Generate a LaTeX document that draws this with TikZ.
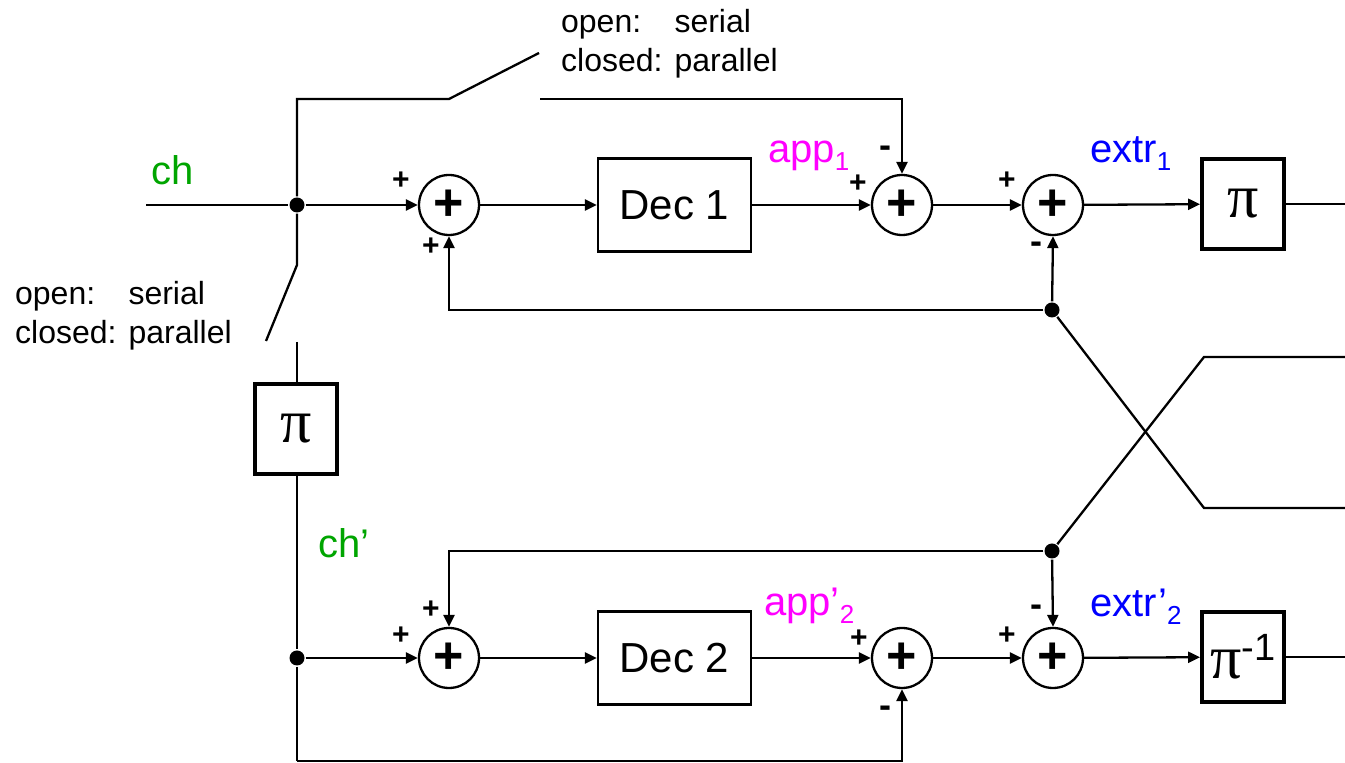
\documentclass[tikz,border=0pt]{standalone}
\usepackage{fontspec}
\setmainfont{Liberation Sans}
\newfontfamily\greekfont{Liberation Serif}
\usetikzlibrary{arrows.meta,positioning}
\definecolor{chgreen}{RGB}{0,165,0}
\definecolor{appmag}{RGB}{255,0,255}
\definecolor{extrblue}{RGB}{0,0,255}
\newcommand{\lowsub}[1]{\raisebox{-4pt}{\fontsize{13}{13}\selectfont #1}}
\newcommand{\sumsign}{\raisebox{-1.5pt}{+}}
\newcommand{\minussign}{{\fontsize{18}{18}\selectfont -}}

\begin{document}
\begin{tikzpicture}[x=0.5pt,y=-0.5pt,line width=1.15pt,>={Triangle[length=6pt,width=5.5pt]},
      sum/.style={circle,draw,minimum size=30pt,inner sep=0pt,font=\fontsize{26}{26}\selectfont\bfseries},
      dec/.style={rectangle,draw,minimum width=76.5pt,minimum height=46.5pt,font=\fontsize{21}{21}\selectfont},
      perm/.style={rectangle,draw,line width=1.9pt,minimum width=41pt,minimum height=45pt,inner sep=0pt,font=\fontsize{31}{31}\greekfont},
      dot/.style={circle,fill,inner sep=0pt,minimum size=7.5pt},
      sgn/.style={inner sep=0pt,font=\fontsize{15}{15}\selectfont\bfseries},
      lbl/.style={anchor=base west,inner sep=0pt,font=\fontsize{20}{20}\selectfont},
      note/.style={anchor=base west,inner sep=0pt,font=\fontsize{16}{19.5}\selectfont}]
      \useasboundingbox (0,0) rectangle (1345,763);

      % upper branch
      \node[dot] (j1) at (297,205) {};
      \node[sum] (s1) at (449,205) {\sumsign};
      \node[dec] (dec1) at (674.5,205) {Dec 1};
      \node[sum] (s2) at (902,205) {\sumsign};
      \node[sum] (s3) at (1053,205) {\sumsign};
      \node[perm] (pi1) at (1243,204) {π};

      % lower branch
      \node[perm] (pi0) at (296,429) {π};
      \node[dot] (j2) at (297,658) {};
      \node[sum] (s4) at (449,658) {\sumsign};
      \node[dec] (dec2) at (674.5,658) {Dec 2};
      \node[sum] (s5) at (902,658) {\sumsign};
      \node[sum] (s6) at (1053,658) {\sumsign};
      \node[perm] (pi2) at (1243,657) {π\raisebox{9pt}{\rmfamily\fontsize{19}{19}\selectfont -1}};

      \node[dot] (f1) at (1052,310) {};
      \node[dot] (f2) at (1052,551) {};

      \coordinate (in) at (146,205);
      \coordinate (swA) at (449,99);
      \coordinate (swB) at (539,53);
      \coordinate (swC) at (540,99);
      \coordinate (lowA) at (297,265);
      \coordinate (lowB) at (266,341);
      \coordinate (lowC) at (297,342);
      \coordinate (bot) at (297,761);
      \coordinate (out1) at (1345,204);
      \coordinate (out2) at (1345,657);
      \coordinate (xa) at (1204,508);
      \coordinate (xb) at (1345,508);
      \coordinate (xc) at (1204,357);
      \coordinate (xd) at (1345,357);

      % switches
      \draw (in) -- (j1);
      \draw (j1) |- (swA) -- (swB);
      \draw[->] (swC) -| (s2.north);
      \draw (j1) -- (lowA) -- (lowB);
      \draw (lowC) -- (297,384);
      \draw (297,474) -- (j2) -- (bot);
      \draw[->] (bot) -| (s5.south);

      % feedback and cross-over
      \draw[->] (f1) -| (s1.south);
      \draw[->] (f1) -- (s3.south);
      \draw (f1) -- (xa) -- (xb);
      \draw[->] (f2) -| (s4.north);
      \draw[->] (f2) -- (s6.north);
      \draw (f2) -- (xc) -- (xd);
      \draw (pi1) -- (out1);
      \draw (pi2) -- (out2);

      \path[->]
        (j1) edge (s1)
        (s1) edge (dec1)
        (dec1) edge (s2)
        (s2) edge (s3)
        (s3) edge (pi1)
        (j2) edge (s4)
        (s4) edge (dec2)
        (dec2) edge (s5)
        (s5) edge (s6)
        (s6) edge (pi2);

      % signs
      \node[sgn] (sg1) at (401,181) {+};
      \node[sgn] (sg2) at (431,247) {+};
      \node[sgn] (sg3) at (885,152) {\minussign};
      \node[sgn] (sg4) at (858,184) {+};
      \node[sgn] (sg5) at (1007,181) {+};
      \node[sgn] (sg6) at (1036,248) {\minussign};
      \node[sgn] (sg7) at (431,610) {+};
      \node[sgn] (sg8) at (401,636) {+};
      \node[sgn] (sg9) at (859,639) {+};
      \node[sgn] (sg10) at (885,712) {\minussign};
      \node[sgn] (sg11) at (1036,611) {\minussign};
      \node[sgn] (sg12) at (1007,636) {+};

      % labels
      \node[lbl,text=chgreen] (chin) at (150,185) {ch};
      \node[lbl,text=chgreen] (chp) at (317,558) {ch’};
      \node[lbl,text=appmag] (app1) at (767,163) {app\lowsub{1}};
      \node[lbl,text=extrblue] (extr1) at (1089,163) {extr\lowsub{1}};
      \node[lbl,text=appmag] (app2) at (763,616) {app’\lowsub{2}};
      \node[lbl,text=extrblue] (extr2) at (1089,617) {extr’\lowsub{2}};
      \node[note] (swtop) at (560,33) {\begin{tabular}[t]{@{}l@{\hspace{6pt}}l@{}}open: & serial\\ closed: & parallel\end{tabular}};
      \node[note] (swleft) at (14,305) {\begin{tabular}[t]{@{}l@{\hspace{6pt}}l@{}}open: & serial\\ closed: & parallel\end{tabular}};
    \end{tikzpicture}
\end{document}
